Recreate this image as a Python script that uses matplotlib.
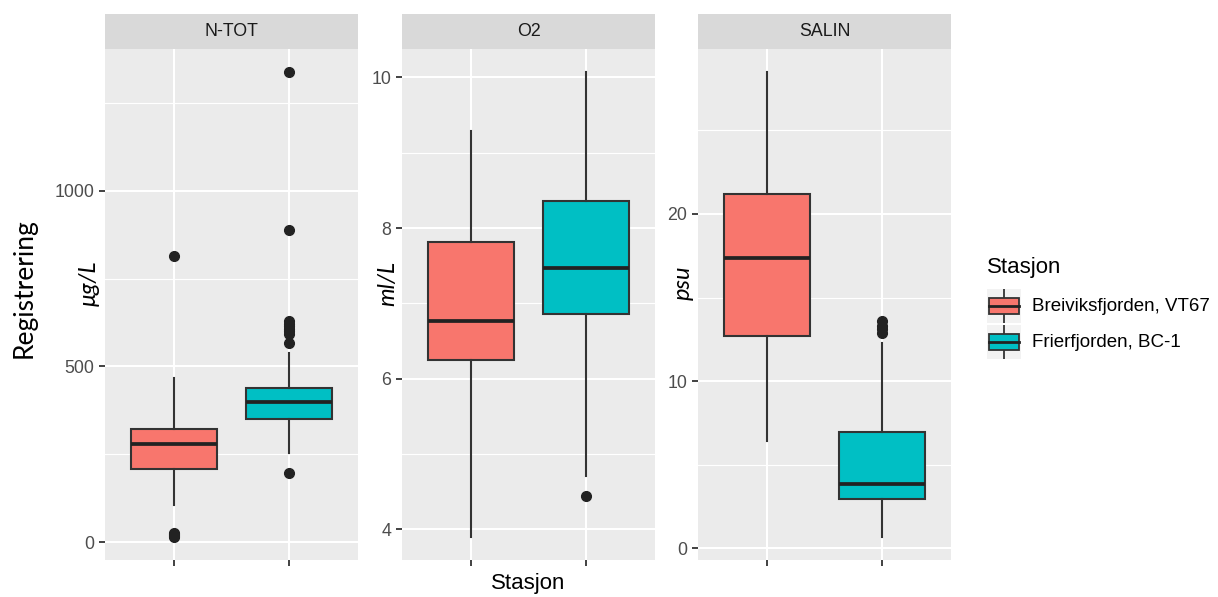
import matplotlib
matplotlib.use("Agg")
import matplotlib.pyplot as plt
from matplotlib.patches import Rectangle

# data (box stats per station: Breiviksfjorden, Frierfjorden)
params = ["N-TOT", "O2", "SALIN"]
units = ["\u03bcg/L", "ml/L", "psu"]
stations = ["Breiviksfjorden, VT67", "Frierfjorden, BC-1"]
colors = ["#F8766D", "#00BFC4"]

ntot_med = [280, 399]
ntot_q1 = [207, 351]
ntot_q3 = [321, 440]
ntot_wlo = [105, 254]
ntot_whi = [467, 538]
ntot_fliers = [[814, 15, 18, 20, 22, 25],
               [198, 567, 592, 600, 608, 615, 622, 630, 889, 1338]]
ntot_ticks = [0, 500, 1000]

o2_med = [6.77, 7.47]
o2_q1 = [6.25, 6.86]
o2_q3 = [7.81, 8.365]
o2_wlo = [3.90, 4.71]
o2_whi = [9.29, 10.07]
o2_fliers = [[], [4.445]]
o2_ticks = [4, 6, 8, 10]

salin_med = [17.36, 3.85]
salin_q1 = [12.71, 2.96]
salin_q3 = [21.21, 6.96]
salin_wlo = [6.45, 0.70]
salin_whi = [28.47, 12.28]
salin_fliers = [[], [12.9, 13.1, 13.3, 13.6]]
salin_ticks = [0, 10, 20]

panels = [
    (ntot_med, ntot_q1, ntot_q3, ntot_wlo, ntot_whi, ntot_fliers, ntot_ticks),
    (o2_med, o2_q1, o2_q3, o2_wlo, o2_whi, o2_fliers, o2_ticks),
    (salin_med, salin_q1, salin_q3, salin_wlo, salin_whi, salin_fliers, salin_ticks),
]

W, H = 1218, 597
fig = plt.figure(figsize=(W / 100, H / 100), dpi=100)
plt.rcParams["font.family"] = ["Liberation Sans", "DejaVu Sans"]

def fx(px):
    return px / W

def fy(py):
    return 1 - py / H

panel_left = [105, 402, 698]
panel_w = 253
plot_top, plot_bot = 49, 560
strip_top = 14

edge = "#333333"
for i, (med, q1, q3, wlo, whi, fl, ticks) in enumerate(panels):
    x0 = panel_left[i]
    ax = fig.add_axes([fx(x0), fy(plot_bot), fx(panel_w), (plot_bot - plot_top) / H])
    ax.set_facecolor("#EBEBEB")
    for s in ax.spines.values():
        s.set_visible(False)

    stats = []
    for k in range(2):
        stats.append(dict(med=med[k], q1=q1[k], q3=q3[k], whislo=wlo[k],
                          whishi=whi[k], fliers=fl[k], label=stations[k]))
    bp = ax.bxp(stats, positions=[1, 2], widths=0.75, patch_artist=True,
                showcaps=False, zorder=3,
                boxprops=dict(edgecolor=edge, linewidth=1.5),
                whiskerprops=dict(color=edge, linewidth=1.5),
                medianprops=dict(color="#222222", linewidth=2.7),
                flierprops=dict(marker="o", markersize=7, markerfacecolor="#222222",
                                markeredgecolor="#222222", linestyle="none"))
    for patch, c in zip(bp["boxes"], colors):
        patch.set_facecolor(c)

    # free y scale with 5% expansion like ggplot
    allv = wlo + whi + [v for f in fl for v in f]
    lo, hi = min(allv), max(allv)
    pad = (hi - lo) * 0.05
    ax.set_xlim(0.4, 2.6)

    ax.set_yticks(ticks)
    minor = [(a + b) / 2 for a, b in zip(ticks[:-1], ticks[1:])]
    step = ticks[1] - ticks[0]
    minor = [ticks[0] - step / 2] + minor + [ticks[-1] + step / 2]
    ax.set_yticks(minor, minor=True)
    ax.set_xticks([1, 2])
    ax.set_xticklabels([])
    ax.grid(True, which="major", color="white", linewidth=1.5, zorder=0)
    ax.grid(True, which="minor", axis="y", color="white", linewidth=0.8, zorder=0)
    ax.set_axisbelow(True)
    ax.tick_params(axis="y", which="major", length=4.5, width=1.3, color=edge,
                   labelsize=12.8, labelcolor="#4D4D4D", pad=3.3)
    ax.tick_params(axis="x", which="major", length=4.5, width=1.3, color=edge)
    ax.tick_params(which="minor", length=0)
    ax.set_ylim(lo - pad, hi + pad)

    # strip
    sax = fig.add_axes([fx(x0), fy(plot_top), fx(panel_w), (plot_top - strip_top) / H])
    sax.set_facecolor("#D9D9D9")
    sax.set_xticks([])
    sax.set_yticks([])
    for s in sax.spines.values():
        s.set_visible(False)
    sax.text(0.5, 0.5, params[i], ha="center", va="center", fontsize=12.8,
             color="#1A1A1A", transform=sax.transAxes)

# per-panel unit labels
unit_x = [89, 388, 683]
for ux, u in zip(unit_x, units):
    fig.text(fx(ux), fy(283), u, rotation=90, ha="center", va="center",
             fontsize=17, style="italic", family=["Lato", "DejaVu Sans"])

fig.text(fx(24), fy(288), "Registrering", rotation=90, ha="center", va="center",
         fontsize=19, family=["Lato", "DejaVu Sans"])
fig.text(fx(528), fy(584), "Stasjon", ha="center", va="center", fontsize=16)

# legend
fig.text(fx(987), fy(268), "Stasjon", ha="left", va="center", fontsize=16)
key_tops = [289, 325]
for k in range(2):
    kax = fig.add_axes([fx(987), fy(key_tops[k] + 34), fx(34), 34 / H])
    kax.set_facecolor("#F2F2F2")
    kax.set_xlim(0, 1)
    kax.set_ylim(0, 1)
    kax.set_xticks([])
    kax.set_yticks([])
    for s in kax.spines.values():
        s.set_visible(False)
    kax.plot([0.5, 0.5], [0, 1], color=edge, linewidth=1.3)
    kax.add_patch(Rectangle((0.06, 0.27), 0.88, 0.46, facecolor=colors[k],
                            edgecolor=edge, linewidth=1.3, zorder=3))
    kax.plot([0.06, 0.94], [0.5, 0.5], color="#222222", linewidth=2.0, zorder=4)
    fig.text(fx(1032), fy(key_tops[k] + 17.5), stations[k], ha="left", va="center",
             fontsize=13.5)

fig.savefig("out.png", dpi=100)
